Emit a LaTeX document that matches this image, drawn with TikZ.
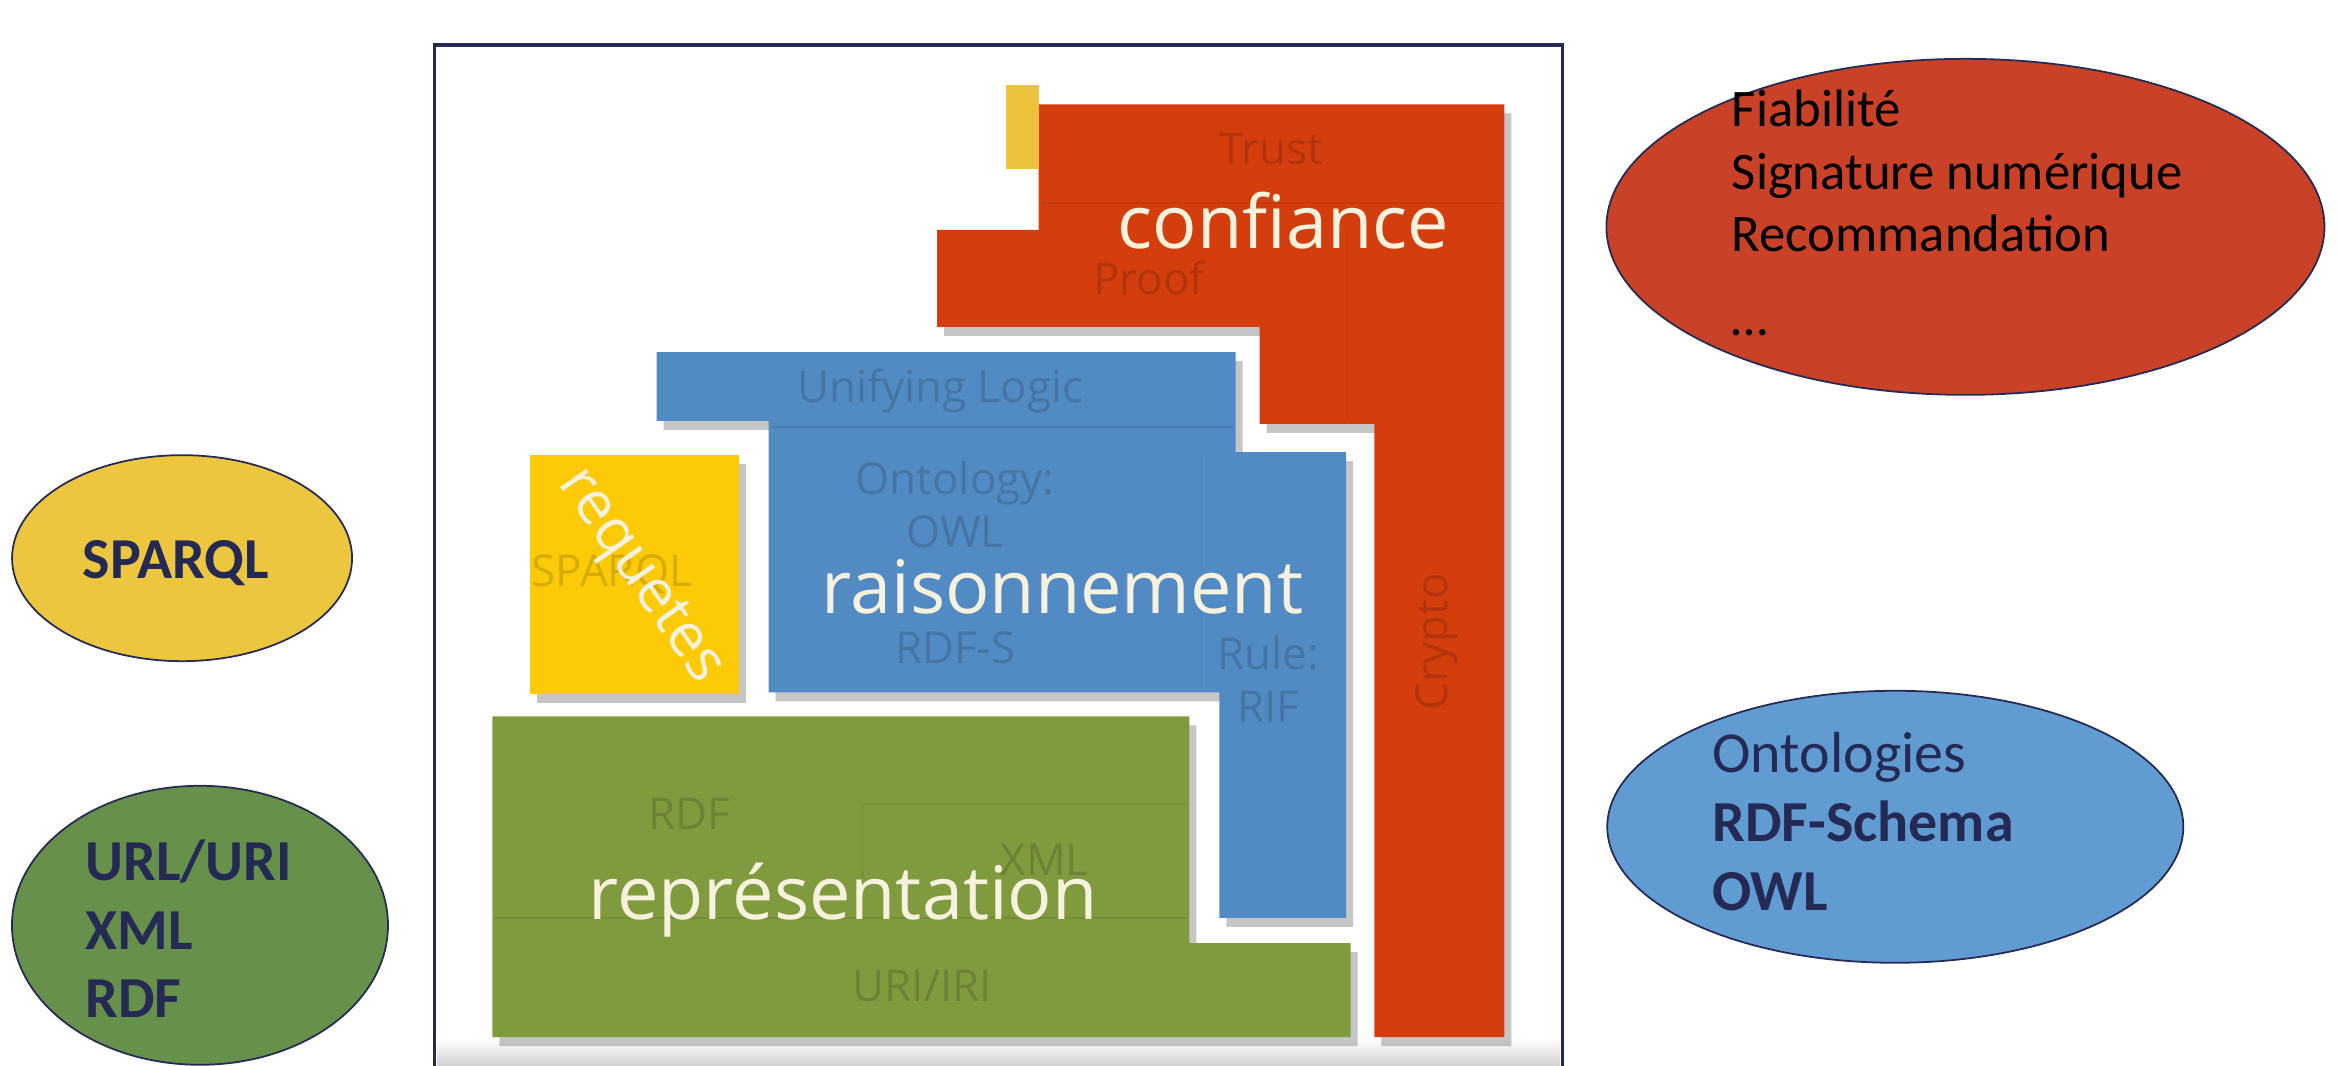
\documentclass[tikz,border=0pt]{standalone}
\usepackage{fontspec}
\setmainfont{Carlito}
\newfontfamily\layerfont{Open Sans}
\usetikzlibrary{%
  shapes.geometric,%
  shadows%
}
\definecolor{navy}{RGB}{37,42,85}
\definecolor{stackred}{RGB}{212,62,14}
\definecolor{stackblue}{RGB}{82,138,196}
\definecolor{stackgreen}{RGB}{128,154,62}
\definecolor{stackyellow}{RGB}{252,202,6}
\definecolor{baryellow}{RGB}{236,196,60}
\definecolor{cream}{RGB}{246,242,222}
\definecolor{bubblered}{RGB}{201,65,38}
\definecolor{bubbleblue}{RGB}{96,155,209}
\definecolor{bubbleyellow}{RGB}{235,198,62}
\definecolor{bubblegreen}{RGB}{103,145,74}

\begin{document}
\begin{tikzpicture}[x=0.14923mm,y=-0.14923mm,
  layer/.style={fill=#1,drop shadow={shadow xshift=0.7mm,shadow yshift=-0.9mm,opacity=0.45}},
  ghost/.style={text=#1,opacity=0.5,inner sep=0pt,font=\layerfont\fontsize{12.5}{15}\selectfont},
  big/.style={text=cream,inner sep=0pt,font=\layerfont\fontsize{21}{24}\selectfont},
  bubble/.style={ellipse,draw=navy,line width=0.5pt,fill=#1,inner sep=0pt},
  note/.style={text=navy,align=left,inner sep=0pt,anchor=north west,font=\fontsize{16.5}{19.6}\selectfont\bfseries}]
\useasboundingbox (0,0) rectangle (1568,714);

% frame of the stack
\shade[top color=white,bottom color=black!18] (293,696) rectangle (1045,714);
\draw[navy,line width=1pt] (291,714) |- (1047,30) -- (1047,714);

% confiance
\fill[layer=stackred] (696,70) -- (1008,70) -- (1008,695) -- (921,695) -- (921,284) -- (844,284) -- (844,219) -- (628,219) -- (628,154) -- (696,154) -- cycle;
\draw[stackred!75!black,opacity=0.25] (698,136) -- (1006,136);
\draw[stackred!75!black,opacity=0.25] (903,156) -- (903,282);
\fill[baryellow] (674,57) rectangle (696,113);

% raisonnement
\fill[layer=stackblue] (440,236) -- (828,236) -- (828,303) -- (902,303) -- (902,615) -- (817,615) -- (817,464) -- (515,464) -- (515,282) -- (440,282) -- cycle;
\draw[stackblue!75!black,opacity=0.3] (517,286) -- (826,286);
\draw[stackblue!75!black,opacity=0.2] (805,305) -- (805,462);

% requetes
\fill[layer=stackyellow] (355,305) rectangle (495,465);

% representation
\fill[layer=stackgreen] (330,480) -- (797,480) -- (797,632) -- (905,632) -- (905,695) -- (330,695) -- cycle;
\draw[stackgreen!70!black,opacity=0.3] (578,588) |- (795,539);
\draw[stackgreen!70!black,opacity=0.3] (332,615) -- (795,615);

\node[ghost=stackred!70!black] (Gtrust) at (852,100) {Trust};
\node[ghost=stackred!70!black] (Gproof) at (770,186) {Proof};
\node[ghost=stackred!70!black,rotate=90] (Gcrypto) at (963,430) {Crypto};
\node[ghost=stackblue!70!black] (Glogic) at (630,262) {Unifying Logic};
\node[ghost=stackblue!70!black,align=center] (Gowl) at (640,338) {Ontology:\\OWL};
\node[ghost=stackblue!70!black] (Grdfs) at (640,434) {RDF-S};
\node[ghost=stackblue!70!black,align=center] (Grif) at (850,455) {Rule:\\RIF};
\node[ghost=stackyellow!70!black] (Gsparql) at (410,385) {SPARQL};
\node[ghost=stackgreen!70!black] (Grdf) at (462,545) {RDF};
\node[ghost=stackgreen!70!black] (Gxml) at (700,576) {XML};
\node[ghost=stackgreen!70!black] (Guri) at (618,661) {URI/IRI};

\node[big] (Lconf) at (860,148) {confiance};
\node[big] (Lrais) at (712,393) {raisonnement};
\node[big] (Lrep) at (565,603) {représentation};
\node[big,rotate=-55,font=\layerfont\fontsize{17}{20}\selectfont] (Lreq) at (428,387) {requetes};

% bubbles
\node[bubble=bubblered,minimum width=71.8mm,minimum height=33.6mm] (Btrust) at (1317,152) {};
\node[bubble=bubbleblue,minimum width=57.6mm,minimum height=27.2mm] (Bonto) at (1270,554) {};
\node[bubble=bubbleyellow,minimum width=34mm,minimum height=20.6mm] (Bsparql) at (122,374) {};
\node[bubble=bubblegreen,minimum width=37.6mm,minimum height=27.9mm] (Brep) at (134,620) {};

\node[note,text=black,font=\fontsize{15}{17.8}\selectfont] (Ttrust) at (1160,60) {Fiabilité\\Signature numérique\\Recommandation\\[6pt]\dots};
\node[note] (Tonto) at (1147,490) {\mdseries Ontologies\\RDF-Schema\\OWL};
\node[note,anchor=west] (Tsparql) at (55,377) {SPARQL};
\node[note] (Trep) at (57,562) {URL/URI\\XML\\RDF};
\end{tikzpicture}
\end{document}
